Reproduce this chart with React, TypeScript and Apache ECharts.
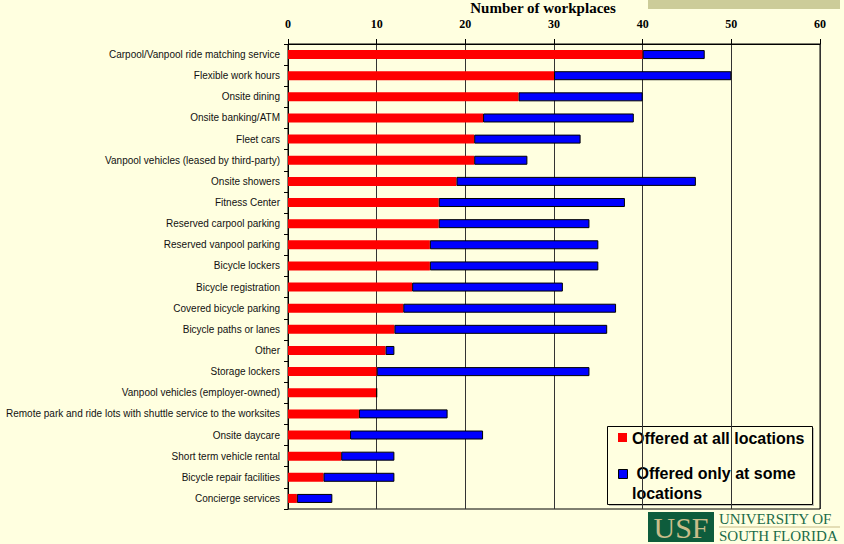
import React, { useEffect, useRef } from "react";
import * as echarts from "echarts";

const categories = [
  "Carpool/Vanpool ride matching service",
  "Flexible work hours",
  "Onsite dining",
  "Onsite banking/ATM",
  "Fleet cars",
  "Vanpool vehicles (leased by third-party)",
  "Onsite showers",
  "Fitness Center",
  "Reserved carpool parking",
  "Reserved vanpool parking",
  "Bicycle lockers",
  "Bicycle registration",
  "Covered bicycle parking",
  "Bicycle paths or lanes",
  "Other",
  "Storage lockers",
  "Vanpool vehicles (employer-owned)",
  "Remote park and ride lots with shuttle service to the worksites",
  "Onsite daycare",
  "Short term vehicle rental",
  "Bicycle repair facilities",
  "Concierge services",
];

const offeredAll = [40, 30, 26, 22, 21, 21, 19, 17, 17, 16, 16, 14, 13, 12, 11, 10, 10, 8, 7, 6, 4, 1];
const offeredSome = [7, 20, 14, 17, 12, 6, 27, 21, 17, 19, 19, 17, 24, 24, 1, 24, 0, 10, 15, 6, 8, 4];

const xTicks = [0, 10, 20, 30, 40, 50, 60];
const axisTitle = "Number of workplaces";
const legendAll = "Offered at all locations";
const legendSome1 = " Offered only at some";
const legendSome2 = "locations";

export default function App() {
  const ref = useRef<HTMLDivElement>(null);

  useEffect(() => {
    if (!ref.current) return;
    const chart = echarts.init(ref.current, null, { renderer: "svg" });
    const bg = "#FFFFE0";
    chart.setOption({
      animation: false,
      backgroundColor: bg,
      grid: {
        left: 288,
        right: 24,
        top: 44,
        bottom: 35,
        show: true,
        borderColor: "#000",
        borderWidth: 1,
        backgroundColor: "transparent",
      },
      xAxis: {
        type: "value",
        position: "top",
        min: xTicks[0],
        max: xTicks[xTicks.length - 1],
        interval: 10,
        axisLine: { show: true, lineStyle: { color: "#000", width: 1 } },
        axisTick: { show: true, length: 5, lineStyle: { color: "#000" } },
        axisLabel: {
          margin: 14,
          color: "#000",
          fontFamily: "Liberation Serif",
          fontWeight: "bold",
          fontSize: 12,
        },
        splitLine: { show: true, lineStyle: { color: "#333", width: 1 } },
      },
      yAxis: {
        type: "category",
        inverse: true,
        data: categories,
        axisLine: { show: true, lineStyle: { color: "#000", width: 1 } },
        axisTick: { show: true, length: 4, lineStyle: { color: "#000" } },
        axisLabel: {
          margin: 8,
          color: "#111",
          fontFamily: "Liberation Sans",
          fontSize: 10,
        },
        splitLine: { show: false },
      },
      series: [
        {
          type: "bar",
          name: legendAll,
          stack: "total",
          data: offeredAll,
          barWidth: 9,
          itemStyle: { color: "#FF0000" },
        },
        {
          type: "bar",
          name: "Offered only at some locations",
          stack: "total",
          data: offeredSome,
          barWidth: 9,
          itemStyle: { color: "#0000FF", borderColor: "#000", borderWidth: 1 },
        },
      ],
      graphic: [
        {
          type: "rect",
          shape: { x: 648, y: 0, width: 192, height: 9 },
          style: { fill: "#CCCC99" },
          silent: true,
        },
        {
          type: "text",
          x: 543,
          y: 8,
          style: {
            text: axisTitle,
            fill: "#000",
            font: "bold 15px 'Liberation Serif'",
            textAlign: "center",
            textVerticalAlign: "middle",
          },
        },
        {
          type: "rect",
          shape: { x: 609, y: 428, width: 205, height: 78 },
          style: { fill: "#999", opacity: 0.6 },
          silent: true,
        },
        {
          type: "rect",
          shape: { x: 607.5, y: 426.5, width: 205, height: 78 },
          style: { fill: bg, stroke: "#000", lineWidth: 1 },
          silent: true,
        },
        {
          type: "rect",
          shape: { x: 618, y: 433, width: 9, height: 9 },
          style: { fill: "#FF0000" },
          silent: true,
        },
        {
          type: "text",
          x: 632,
          y: 438,
          style: {
            text: legendAll,
            fill: "#000",
            font: "bold 16px 'Liberation Sans'",
            textAlign: "left",
            textVerticalAlign: "middle",
          },
        },
        {
          type: "rect",
          shape: { x: 618.5, y: 469.5, width: 9, height: 9 },
          style: { fill: "#0000FF", stroke: "#000", lineWidth: 1 },
          silent: true,
        },
        {
          type: "text",
          x: 632,
          y: 473,
          style: {
            text: legendSome1,
            fill: "#000",
            font: "bold 16px 'Liberation Sans'",
            textAlign: "left",
            textVerticalAlign: "middle",
          },
        },
        {
          type: "text",
          x: 632,
          y: 493,
          style: {
            text: legendSome2,
            fill: "#000",
            font: "bold 16px 'Liberation Sans'",
            textAlign: "left",
            textVerticalAlign: "middle",
          },
        },
        {
          type: "rect",
          shape: { x: 648, y: 512, width: 66, height: 30 },
          style: { fill: "#0E5C3C" },
          silent: true,
        },
        {
          type: "text",
          x: 681,
          y: 527,
          style: {
            text: "USF",
            fill: "#C9BD8A",
            font: "30px 'Liberation Serif'",
            textAlign: "center",
            textVerticalAlign: "middle",
          },
        },
        {
          type: "text",
          x: 719,
          y: 519,
          style: {
            text: "UNIVERSITY OF",
            fill: "#1B6B48",
            font: "15px 'Liberation Serif'",
            textAlign: "left",
            textVerticalAlign: "middle",
          },
        },
        {
          type: "line",
          shape: { x1: 719, y1: 527, x2: 840, y2: 527 },
          style: { stroke: "#C9BD8A", lineWidth: 1 },
          silent: true,
        },
        {
          type: "text",
          x: 719,
          y: 536,
          style: {
            text: "SOUTH FLORIDA",
            fill: "#1B6B48",
            font: "15px 'Liberation Serif'",
            textAlign: "left",
            textVerticalAlign: "middle",
          },
        },
      ],
    });
    return () => chart.dispose();
  }, []);

  return (
    <div
      ref={ref}
      style={{ position: "fixed", left: 0, top: 0, width: 844, height: 544 }}
    />
  );
}
